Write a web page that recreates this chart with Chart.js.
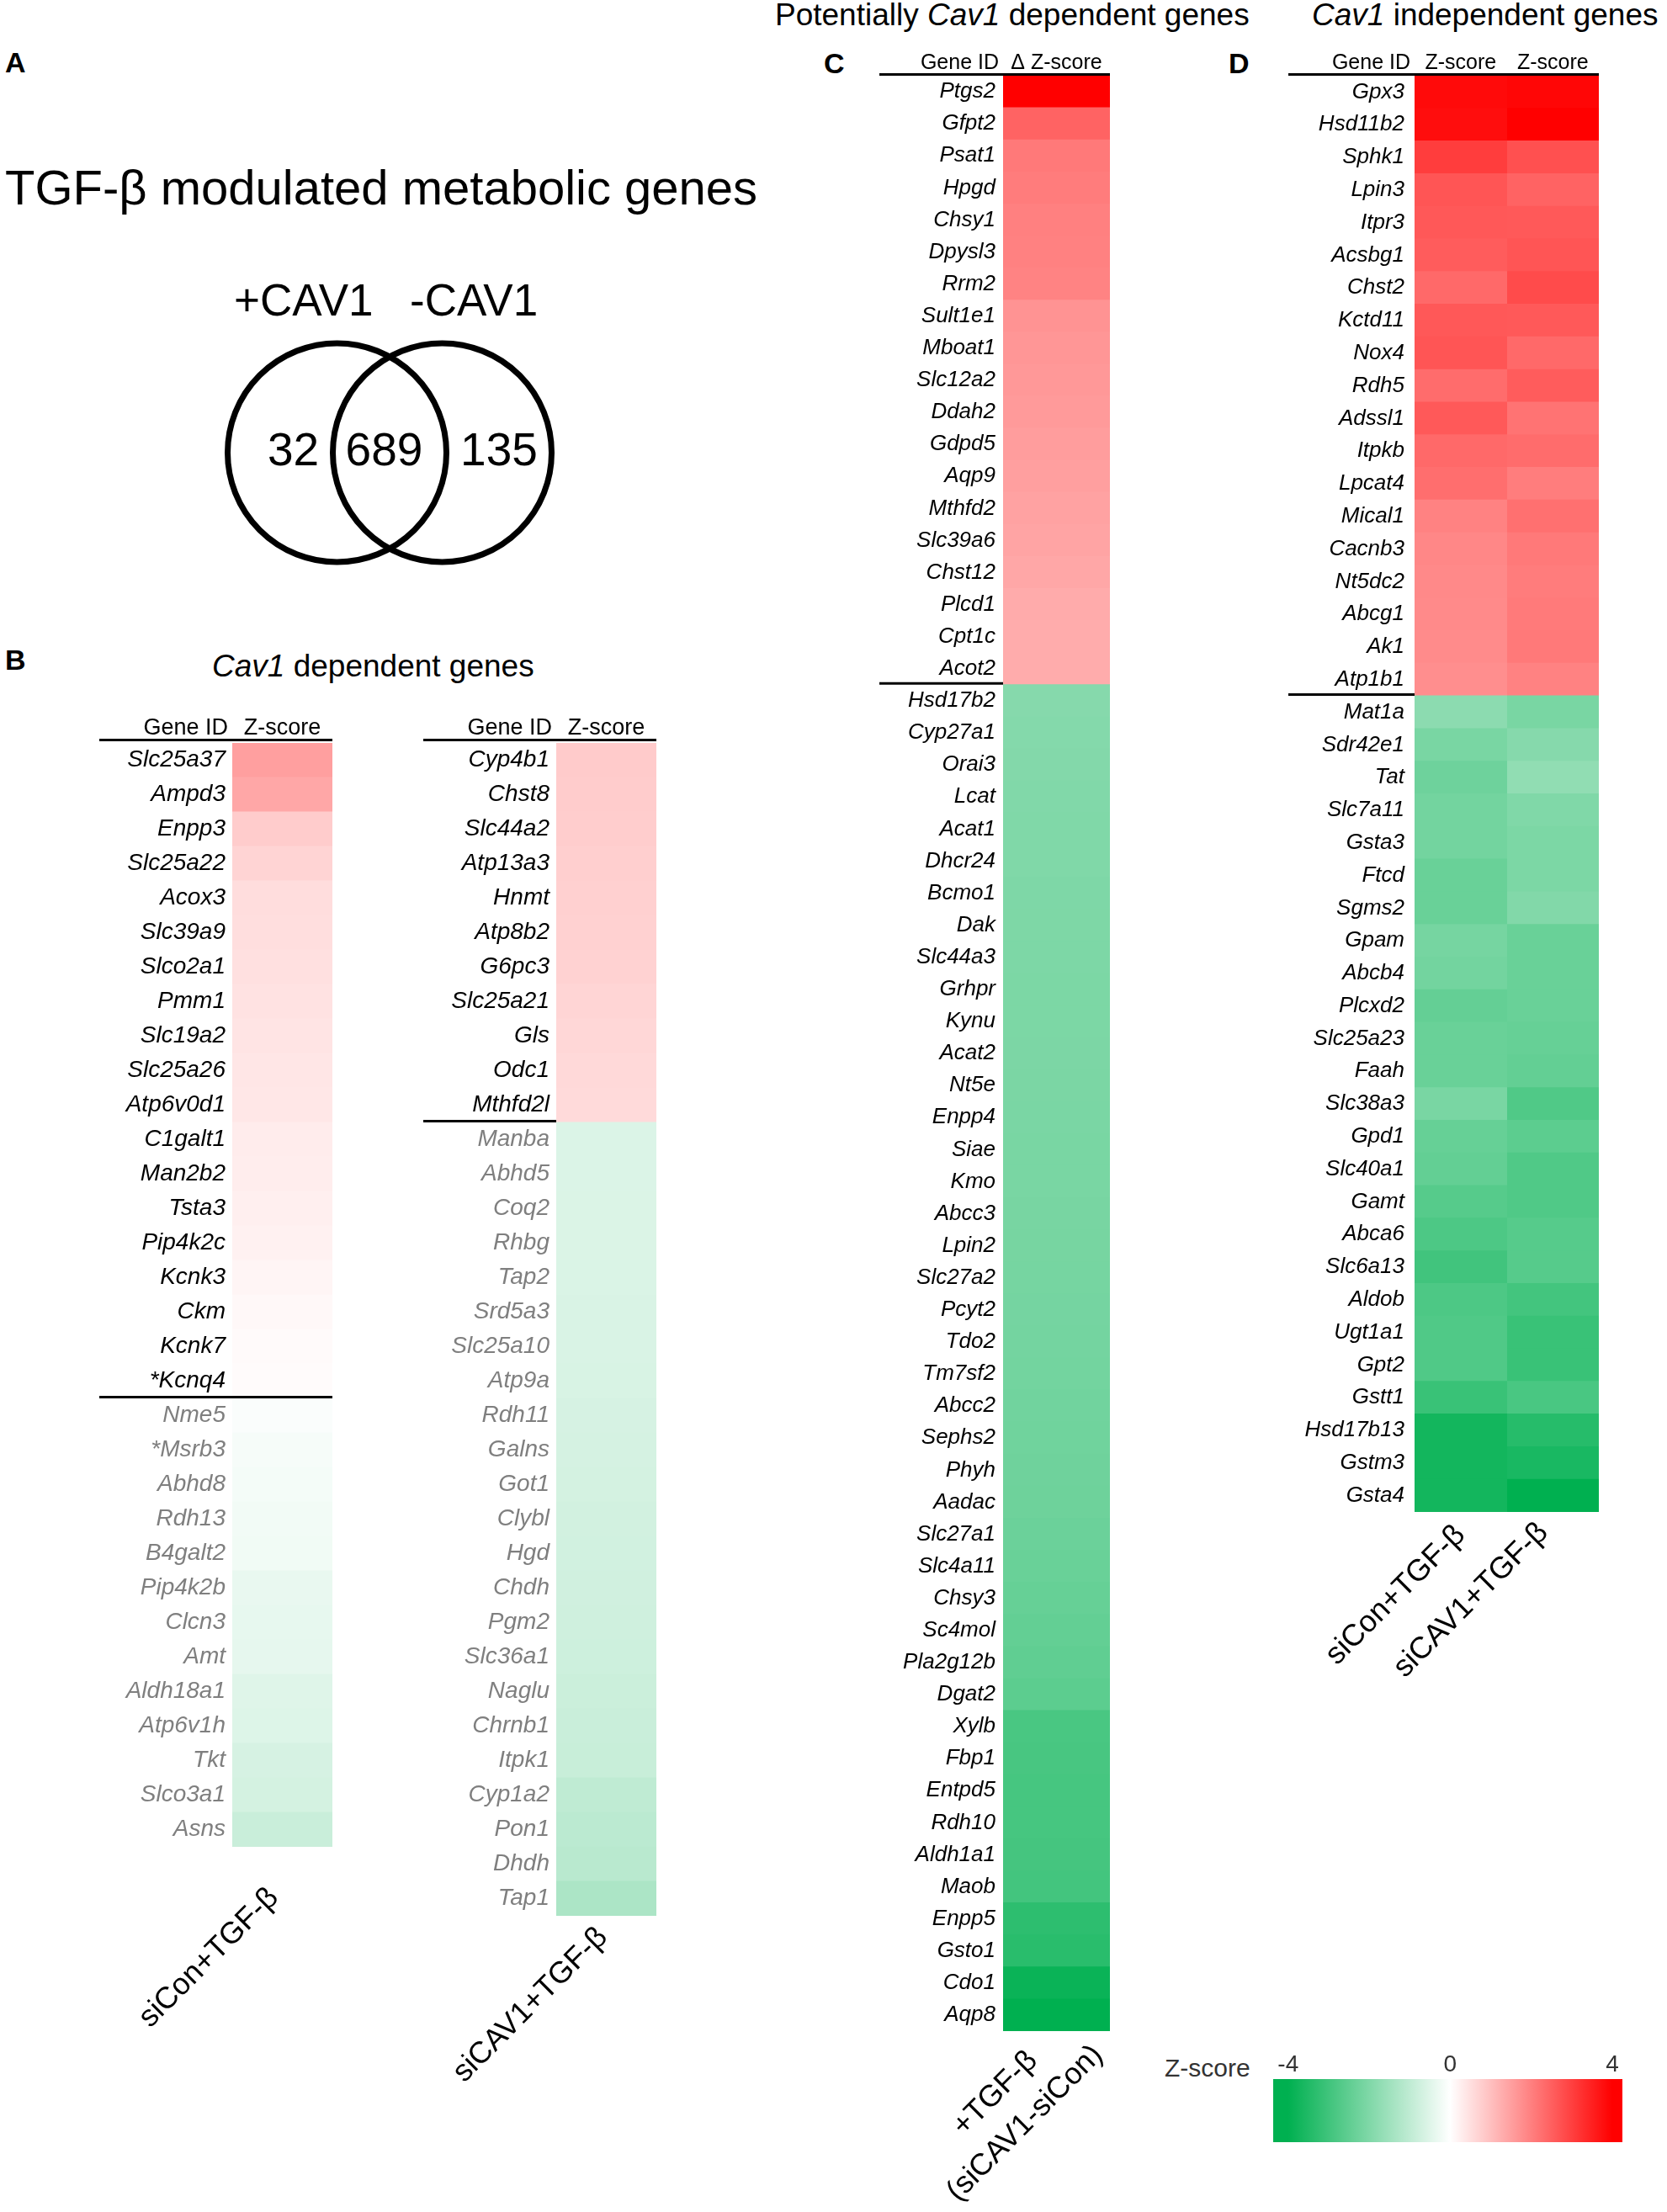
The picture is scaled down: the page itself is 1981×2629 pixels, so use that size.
<!DOCTYPE html>
<html>
<head>
<meta charset="utf-8">
<script src="https://cdn.jsdelivr.net/npm/chart.js@4.4.1/dist/chart.umd.min.js"></script>
<style>
  html, body { margin: 0; padding: 0; background: #fff; }
  #page { position: relative; width: 1981px; height: 2629px; overflow: hidden;
          font-family: "Liberation Sans", Arial, Helvetica, sans-serif; color: #000; }
  .t { position: absolute; line-height: 1; white-space: nowrap; }
  .lt { font-weight: bold; font-size: 34px; }
  canvas { position: absolute; }
</style>
</head>
<body>
<div id="page">
  <!-- panel letters and titles -->
  <div class="t lt" style="left:6px;top:57px">A</div>
  <div class="t" style="left:6px;top:194px;font-size:58px">TGF-β modulated metabolic genes</div>
  <div class="t" style="left:278px;top:330px;font-size:53px">+CAV1</div>
  <div class="t" style="left:487px;top:330px;font-size:53px">-CAV1</div>

  <div class="t lt" style="left:6px;top:767px">B</div>
  <div class="t" style="left:252px;top:773px;font-size:37px"><i>Cav1</i> dependent genes</div>

  <div class="t lt" style="left:979px;top:58px">C</div>
  <div class="t" style="left:921px;top:-1px;font-size:37px">Potentially <i>Cav1</i> dependent genes</div>

  <div class="t lt" style="left:1460px;top:58px">D</div>
  <div class="t" style="left:1559px;top:-1px;font-size:37px"><i>Cav1</i> independent genes</div>

  <div class="t" style="left:1384px;top:2443px;font-size:30px;color:#333">Z-score</div>
</div>

<script>
const FONT = '"Liberation Sans", Arial, Helvetica, sans-serif';
Chart.defaults.font.family = FONT;
Chart.defaults.color = '#000';

// ---- A: venn ----
const vennSets = ['+CAV1', '-CAV1'];
const vennX = [-0.625, 0.625];
const vennCounts = [32, 689, 135];

// ---- B: Cav1 dependent genes ----
const bLeftGenes = ['Slc25a37', 'Ampd3', 'Enpp3', 'Slc25a22', 'Acox3', 'Slc39a9', 'Slco2a1', 'Pmm1',
  'Slc19a2', 'Slc25a26', 'Atp6v0d1', 'C1galt1', 'Man2b2', 'Tsta3', 'Pip4k2c', 'Kcnk3', 'Ckm', 'Kcnk7',
  '*Kcnq4', 'Nme5', '*Msrb3', 'Abhd8', 'Rdh13', 'B4galt2', 'Pip4k2b', 'Clcn3', 'Amt', 'Aldh18a1',
  'Atp6v1h', 'Tkt', 'Slco3a1', 'Asns'];
const bLeftZ = [1.5, 1.38, 0.8, 0.68, 0.54, 0.51, 0.48, 0.46, 0.43, 0.4, 0.37, 0.3, 0.28, 0.25, 0.22,
  0.16, 0.11, 0.08, 0.06, -0.08, -0.14, -0.17, -0.2, -0.22, -0.34, -0.37, -0.4, -0.5, -0.53, -0.65,
  -0.68, -0.85];
const bLeftConditions = ['siCon+TGF-β'];

const bRightGenes = ['Cyp4b1', 'Chst8', 'Slc44a2', 'Atp13a3', 'Hnmt', 'Atp8b2', 'G6pc3', 'Slc25a21',
  'Gls', 'Odc1', 'Mthfd2l', 'Manba', 'Abhd5', 'Coq2', 'Rhbg', 'Tap2', 'Srd5a3', 'Slc25a10', 'Atp9a',
  'Rdh11', 'Galns', 'Got1', 'Clybl', 'Hgd', 'Chdh', 'Pgm2', 'Slc36a1', 'Naglu', 'Chrnb1', 'Itpk1',
  'Cyp1a2', 'Pon1', 'Dhdh', 'Tap1'];
const bRightZ = [0.82, 0.8, 0.78, 0.76, 0.74, 0.72, 0.7, 0.66, 0.62, 0.6, 0.58, -0.56, -0.56, -0.57,
  -0.57, -0.58, -0.59, -0.6, -0.61, -0.64, -0.66, -0.68, -0.7, -0.72, -0.74, -0.76, -0.78, -0.82,
  -0.84, -0.86, -1.0, -1.06, -1.1, -1.3];
const bRightConditions = ['siCAV1+TGF-β'];

// ---- C: potentially Cav1 dependent genes ----
const cGenes = ['Ptgs2', 'Gfpt2', 'Psat1', 'Hpgd', 'Chsy1', 'Dpysl3', 'Rrm2', 'Sult1e1', 'Mboat1',
  'Slc12a2', 'Ddah2', 'Gdpd5', 'Aqp9', 'Mthfd2', 'Slc39a6', 'Chst12', 'Plcd1', 'Cpt1c', 'Acot2',
  'Hsd17b2', 'Cyp27a1', 'Orai3', 'Lcat', 'Acat1', 'Dhcr24', 'Bcmo1', 'Dak', 'Slc44a3', 'Grhpr', 'Kynu',
  'Acat2', 'Nt5e', 'Enpp4', 'Siae', 'Kmo', 'Abcc3', 'Lpin2', 'Slc27a2', 'Pcyt2', 'Tdo2', 'Tm7sf2',
  'Abcc2', 'Sephs2', 'Phyh', 'Aadac', 'Slc27a1', 'Slc4a11', 'Chsy3', 'Sc4mol', 'Pla2g12b', 'Dgat2',
  'Xylb', 'Fbp1', 'Entpd5', 'Rdh10', 'Aldh1a1', 'Maob', 'Enpp5', 'Gsto1', 'Cdo1', 'Aqp8'];
const cDeltaZ = [4.0, 2.45, 2.1, 2.05, 2.0, 1.98, 1.95, 1.7, 1.65, 1.62, 1.58, 1.54, 1.5, 1.46, 1.42,
  1.38, 1.32, 1.3, 1.3, -1.9, -1.93, -1.95, -1.97, -2.0, -2.0, -2.02, -2.03, -2.04, -2.05, -2.05, -2.06,
  -2.07, -2.08, -2.1, -2.1, -2.12, -2.14, -2.15, -2.16, -2.18, -2.2, -2.22, -2.24, -2.26, -2.28, -2.32,
  -2.35, -2.4, -2.45, -2.5, -2.55, -2.85, -2.87, -2.9, -2.9, -2.92, -2.95, -3.3, -3.35, -3.85, -4.0];
const cConditions = [['+TGF-β', '(siCAV1-siCon)']];

// ---- D: Cav1 independent genes ----
const dGenes = ['Gpx3', 'Hsd11b2', 'Sphk1', 'Lpin3', 'Itpr3', 'Acsbg1', 'Chst2', 'Kctd11', 'Nox4',
  'Rdh5', 'Adssl1', 'Itpkb', 'Lpcat4', 'Mical1', 'Cacnb3', 'Nt5dc2', 'Abcg1', 'Ak1', 'Atp1b1', 'Mat1a',
  'Sdr42e1', 'Tat', 'Slc7a11', 'Gsta3', 'Ftcd', 'Sgms2', 'Gpam', 'Abcb4', 'Plcxd2', 'Slc25a23', 'Faah',
  'Slc38a3', 'Gpd1', 'Slc40a1', 'Gamt', 'Abca6', 'Slc6a13', 'Aldob', 'Ugt1a1', 'Gpt2', 'Gstt1',
  'Hsd17b13', 'Gstm3', 'Gsta4'];
const dZsiCon = [3.85, 3.8, 3.05, 2.67, 2.62, 2.56, 2.35, 2.62, 2.67, 2.3, 2.6, 2.35, 2.27, 1.96, 1.88,
  1.85, 1.83, 1.82, 1.77, -1.8, -2.1, -2.27, -2.2, -2.2, -2.35, -2.35, -2.15, -2.2, -2.43, -2.35, -2.35,
  -2.1, -2.4, -2.45, -2.65, -2.8, -2.98, -2.8, -2.75, -2.75, -3.1, -3.7, -3.7, -3.7];
const dZsiCAV1 = [3.9, 4.0, 2.75, 2.45, 2.6, 2.67, 2.82, 2.6, 2.35, 2.56, 2.2, 2.3, 2.04, 2.24, 2.1,
  2.05, 2.08, 2.1, 1.96, -2.1, -1.9, -1.73, -2.0, -2.05, -2.05, -1.96, -2.35, -2.35, -2.35, -2.4, -2.45,
  -2.75, -2.55, -2.75, -2.75, -2.65, -2.65, -2.95, -3.1, -3.1, -2.85, -3.4, -3.6, -4.0];
const dConditions = ['siCon+TGF-β', 'siCAV1+TGF-β'];

// ---- colour key ----
const scaleTicks = [-4, 0, 4];

const zMax = 4;
function zColor(v) {
  const t = Math.min(Math.abs(v) / zMax, 1);
  if (v >= 0) {
    const c = Math.round(255 * (1 - t));
    return `rgb(255,${c},${c})`;
  }
  return `rgb(${Math.round(255 * (1 - t))},${Math.round(255 - 79 * t)},${Math.round(255 - 175 * t)})`;
}

function addCanvas(left, top, w, h) {
  const c = document.createElement('canvas');
  c.width = w; c.height = h;
  c.style.left = left + 'px'; c.style.top = top + 'px';
  c.style.width = w + 'px'; c.style.height = h + 'px';
  document.getElementById('page').appendChild(c);
  return c;
}

// header rule, "Gene ID" header, red/green separator and the slanted condition names
const heatDecor = {
  id: 'heatDecor',
  afterDraw(chart, args, o) {
    const { ctx, chartArea: a, scales: { x, y } } = chart;
    ctx.save();
    ctx.strokeStyle = '#000';
    ctx.lineWidth = 3;
    ctx.beginPath();
    ctx.moveTo(o.ruleFrom, a.top - o.ruleGap);
    ctx.lineTo(a.right, a.top - o.ruleGap);
    ctx.stroke();

    const ySep = (y.getPixelForValue(o.split - 1) + y.getPixelForValue(o.split)) / 2 - 1.5;
    ctx.beginPath();
    ctx.moveTo(o.ruleFrom, ySep);
    ctx.lineTo(o.sepFull ? a.right : a.left, ySep);
    ctx.stroke();

    ctx.fillStyle = '#000';
    ctx.font = `${o.headSize}px ${FONT}`;
    ctx.textBaseline = 'alphabetic';
    ctx.textAlign = 'right';
    ctx.fillText('Gene ID', a.left - 5, a.top - o.headGap);
    ctx.textAlign = 'center';
    o.heads.forEach((h, i) => ctx.fillText(h, x.getPixelForValue(i + 0.5), a.top - o.headGap));

    ctx.font = `36px ${FONT}`;
    o.conds.forEach((lab, i) => {
      const lines = [].concat(lab);
      ctx.save();
      ctx.translate(x.getPixelForValue(i + 0.5) + o.condDx[i], a.bottom + o.condDy[i]);
      ctx.rotate(-Math.PI / 4);
      ctx.textAlign = lines.length > 1 ? 'center' : 'right';
      ctx.textBaseline = 'middle';
      lines.forEach((t, k) => ctx.fillText(t, 0, (k - (lines.length - 1) / 2) * 50));
      ctx.restore();
    });
    ctx.restore();
  }
};

function heatmap(canvas, genes, columns, heads, conds, o) {
  const split = columns[0].findIndex(v => v < 0);
  return new Chart(canvas, {
    type: 'bar',
    data: {
      labels: genes,
      datasets: columns.map((vals, ci) => ({
        data: vals.map(() => [ci, ci + 1]),
        backgroundColor: vals.map(zColor),
        borderWidth: 0,
        barPercentage: 1,
        categoryPercentage: 1,
        grouped: false,
        inflateAmount: 0.5
      }))
    },
    options: {
      indexAxis: 'y',
      responsive: false,
      animation: false,
      events: [],
      layout: { padding: o.pad },
      plugins: {
        legend: { display: false },
        tooltip: { enabled: false },
        heatDecor: Object.assign({ split, heads, conds }, o)
      },
      scales: {
        x: { type: 'linear', min: 0, max: columns.length, display: false },
        y: {
          grid: { display: false, drawTicks: false },
          border: { display: false },
          ticks: {
            autoSkip: false,
            padding: o.tickPad,
            font: { size: o.labelSize, style: 'italic' },
            color: c => (o.grayBelow && c.index >= split) ? '#7f7f7f' : '#000'
          },
          afterFit: s => { s.width = o.axisW; }
        }
      }
    },
    plugins: [heatDecor]
  });
}

// B left
heatmap(addCanvas(100, 820, 300, 1640), bLeftGenes, [bLeftZ], ['Z-score'], bLeftConditions, {
  axisW: 176, pad: { left: 0, right: 5, top: 63, bottom: 265 }, tickPad: 8, labelSize: 28,
  headSize: 27, headGap: 10, ruleGap: 3.5, ruleFrom: 18, sepFull: true, grayBelow: true,
  condDx: [-10], condDy: [55]
});
// B right
heatmap(addCanvas(480, 820, 305, 1720), bRightGenes, [bRightZ], ['Z-score'], bRightConditions, {
  axisW: 181, pad: { left: 0, right: 5, top: 63, bottom: 263 }, tickPad: 8, labelSize: 28,
  headSize: 27, headGap: 10, ruleGap: 3.5, ruleFrom: 23, sepFull: false, grayBelow: true,
  condDx: [-4], condDy: [20]
});
// C
heatmap(addCanvas(1030, 40, 300, 2589), cGenes, [cDeltaZ], ['Δ Z-score'], cConditions, {
  axisW: 162, pad: { left: 0, right: 11, top: 50, bottom: 215 }, tickPad: 9, labelSize: 26,
  headSize: 25, headGap: 8, ruleGap: 1.5, ruleFrom: 15, sepFull: false, grayBelow: false,
  condDx: [-55], condDy: [92]
});
// D
heatmap(addCanvas(1500, 40, 410, 2010), dGenes, [dZsiCon, dZsiCAV1], ['Z-score', 'Z-score'], dConditions, {
  axisW: 181, pad: { left: 0, right: 10, top: 50, bottom: 253 }, tickPad: 12, labelSize: 26,
  headSize: 25, headGap: 8, ruleGap: 1.5, ruleFrom: 31, sepFull: false, grayBelow: false,
  condDx: [0, -11], condDy: [22, 19]
});

// colour key
const keyMin = -4.37, keyMax = 4.25;
new Chart(addCanvas(1370, 2420, 580, 140), {
  type: 'bar',
  data: {
    labels: ['Z-score'],
    datasets: [{
      data: [[keyMin, keyMax]],
      borderWidth: 0,
      barPercentage: 1,
      categoryPercentage: 1,
      backgroundColor: c => {
        const ch = c.chart;
        if (!ch.chartArea) return '#fff';
        const x = ch.scales.x;
        const g = ch.ctx.createLinearGradient(x.getPixelForValue(scaleTicks[0]), 0,
          x.getPixelForValue(scaleTicks[scaleTicks.length - 1]), 0);
        g.addColorStop(0, zColor(scaleTicks[0]));
        g.addColorStop(0.5, zColor(0));
        g.addColorStop(1, zColor(scaleTicks[scaleTicks.length - 1]));
        return g;
      }
    }]
  },
  options: {
    indexAxis: 'y',
    responsive: false,
    animation: false,
    events: [],
    layout: { padding: { left: 143, right: 22, top: 0, bottom: 14 } },
    plugins: { legend: { display: false }, tooltip: { enabled: false } },
    scales: {
      x: {
        position: 'top', min: keyMin, max: keyMax,
        grid: { display: false, drawTicks: false },
        border: { display: false },
        afterBuildTicks: s => { s.ticks = scaleTicks.map(v => ({ value: v })); },
        ticks: { padding: 0, font: { size: 28 }, color: '#333' },
        afterFit: s => { s.height = 51; }
      },
      y: { display: false }
    }
  }
});

// venn counts drawn at their region positions
const vennText = {
  id: 'vennText',
  afterDatasetsDraw(chart, args, o) {
    const { ctx, scales: { x, y } } = chart;
    ctx.save();
    ctx.fillStyle = '#000';
    ctx.font = `55px ${FONT}`;
    ctx.textAlign = 'center';
    ctx.textBaseline = 'alphabetic';
    vennCounts.forEach((n, i) => ctx.fillText(String(n), x.getPixelForValue(o.at[i]), y.getPixelForValue(o.base)));
    ctx.restore();
  }
};

new Chart(addCanvas(212.5, 368, 500, 340), {
  type: 'scatter',
  data: {
    datasets: [{
      label: vennSets.join(' / '),
      data: vennX.map(v => ({ x: v, y: 0 })),
      pointRadius: 130,
      pointHoverRadius: 130,
      borderWidth: 7,
      borderColor: '#000',
      backgroundColor: 'rgba(0,0,0,0)',
      clip: false
    }]
  },
  options: {
    responsive: false,
    animation: false,
    events: [],
    layout: { padding: 0, autoPadding: false },
    plugins: {
      legend: { display: false },
      tooltip: { enabled: false },
      vennText: { at: [-1.145, -0.065, 1.3], base: -0.15 }
    },
    scales: {
      x: { min: -2.5, max: 2.5, display: false },
      y: { min: -1.7, max: 1.7, display: false }
    }
  },
  plugins: [vennText]
});
</script>
</body>
</html>
